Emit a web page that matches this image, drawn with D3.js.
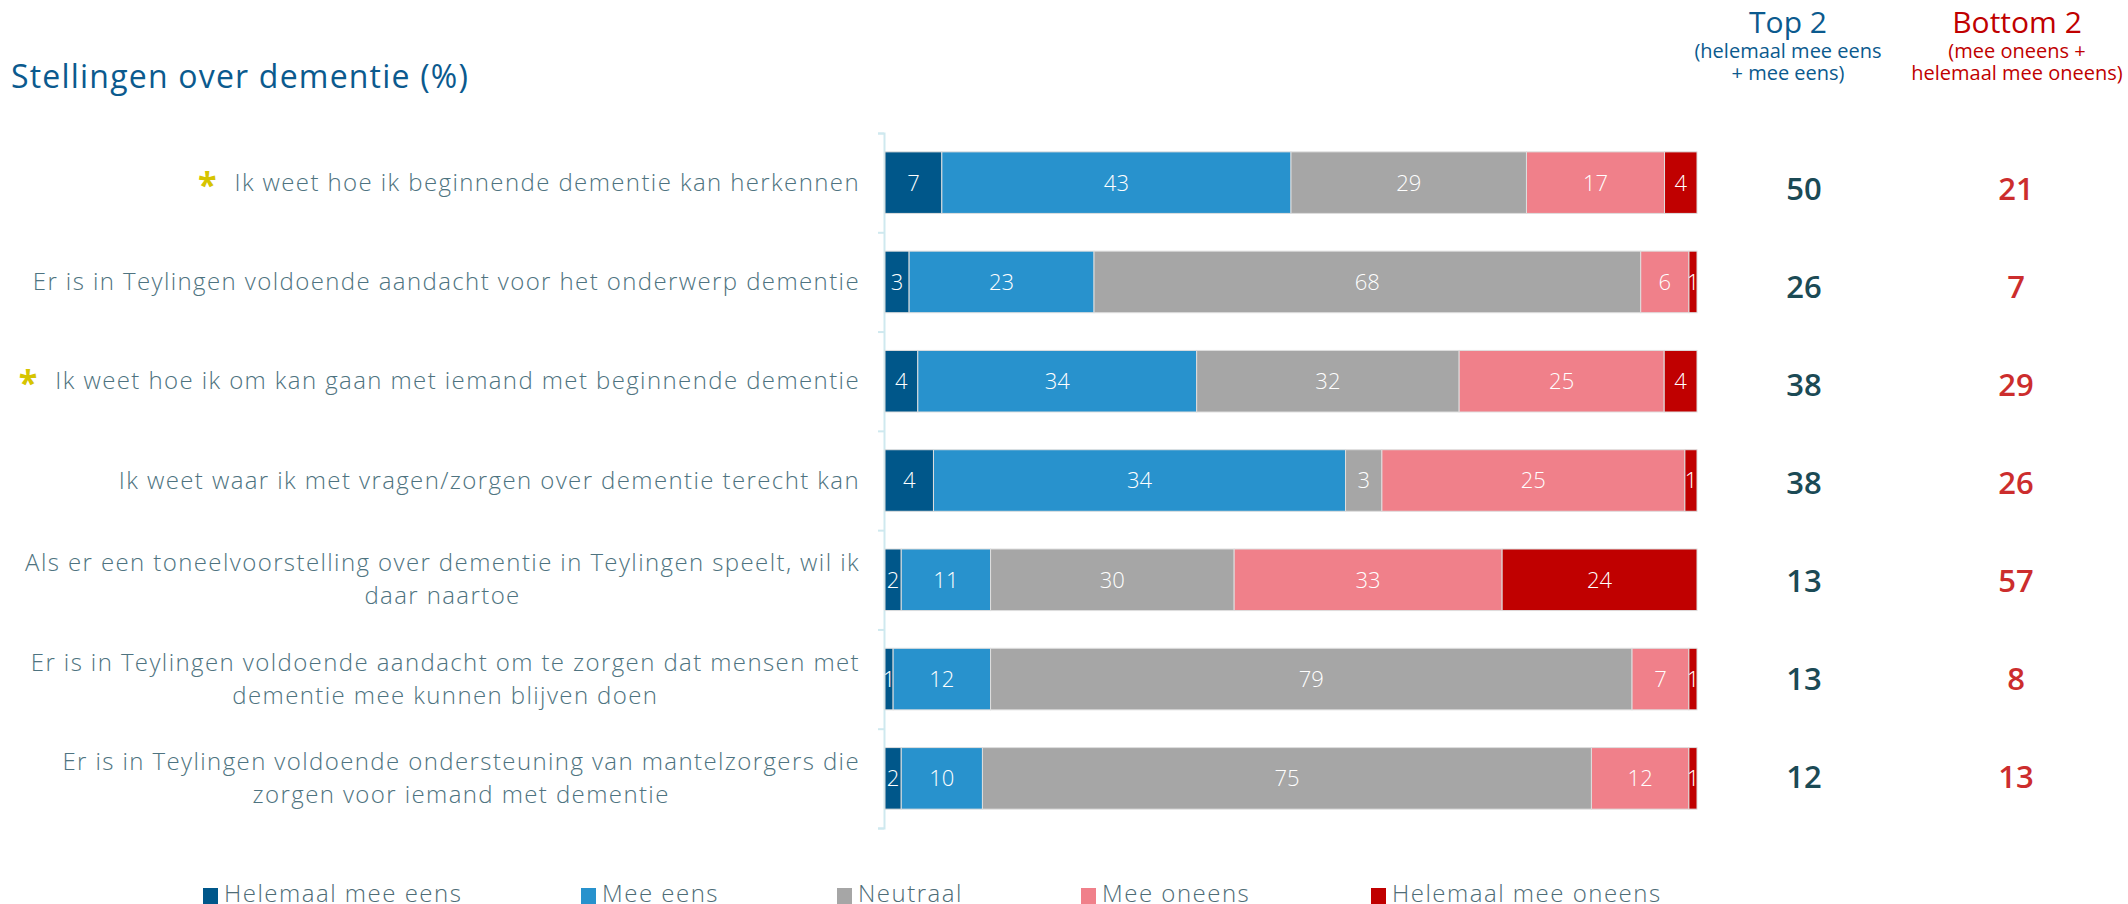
<!DOCTYPE html>
<html>
<head>
<meta charset="utf-8">
<script src="https://cdn.jsdelivr.net/npm/d3@7"></script>
<style>
  body { margin: 0; background: #fff; }
  svg { display: block; font-family: "Open Sans", "Noto Sans", sans-serif; }
</style>
</head>
<body>
<div id="chart"></div>
<script>
// Stellingen over dementie — 100% stacked bars with top2 / bottom2 columns
const statements = [
  ["Ik weet hoe ik beginnende dementie kan herkennen"],
  ["Er is in Teylingen voldoende aandacht voor het onderwerp dementie"],
  ["Ik weet hoe ik om kan gaan met iemand met beginnende dementie"],
  ["Ik weet waar ik met vragen/zorgen over dementie terecht kan"],
  ["Als er een toneelvoorstelling over dementie in Teylingen speelt, wil ik", "daar naartoe"],
  ["Er is in Teylingen voldoende aandacht om te zorgen dat mensen met", "dementie mee kunnen blijven doen"],
  ["Er is in Teylingen voldoende ondersteuning van mantelzorgers die", "zorgen voor iemand met dementie"]
];
const starred = [true, false, true, false, false, false, false];

const seriesNames = ["Helemaal mee eens", "Mee eens", "Neutraal", "Mee oneens", "Helemaal mee oneens"];
const helemaalEens = [7, 3, 4, 4, 2, 1, 2];
const meeEens = [43, 23, 34, 34, 11, 12, 10];
const neutraal = [29, 68, 32, 3, 30, 79, 75];
const meeOneens = [17, 6, 25, 25, 33, 7, 12];
const helemaalOneens = [4, 1, 4, 1, 24, 1, 1];

const top2 = [50, 26, 38, 38, 13, 13, 12];
const bottom2 = [21, 7, 29, 26, 57, 8, 13];

const colors = ["#00578a", "#2892cd", "#a6a6a6", "#f0808a", "#c00000"];

const W = 2128, H = 904;
const svg = d3.select("#chart").append("svg").attr("width", W).attr("height", H);

const rows = statements.map((s, i) => ({
  i,
  "Helemaal mee eens": helemaalEens[i],
  "Mee eens": meeEens[i],
  "Neutraal": neutraal[i],
  "Mee oneens": meeOneens[i],
  "Helemaal mee oneens": helemaalOneens[i]
}));

// bars are normalised to 100% (labels keep the raw numbers)
const stack = d3.stack().keys(seriesNames).offset(d3.stackOffsetExpand)(rows);

const x = d3.scaleLinear().domain([0, 1]).range([885, 1697]);
const y = d3.scaleBand().domain(d3.range(statements.length)).range([133, 828]).paddingInner(0.38).paddingOuter(0.19);
const yLin = d3.scaleLinear().domain([0, statements.length]).range([133, 828]);
// value columns sit on their own spacing
const yVal = d3.scaleLinear().domain([0, statements.length - 1]).range([200, 788]);

// Title
svg.append("text")
  .attr("x", 11).attr("y", 88)
  .attr("fill", "#0b5a8e")
  .attr("font-size", "32px")
  .attr("font-weight", 500)
  .attr("letter-spacing", "1.2px")
  .text("Stellingen over dementie (%)");

// Column headers
const headers = [
  { cx: 1788, color: "#0b5a8e", title: "Top 2", sub: ["(helemaal mee eens", "+ mee eens)"] },
  { cx: 2017, color: "#c00000", title: "Bottom 2", sub: ["(mee oneens +", "helemaal mee oneens)"] }
];
headers.forEach(h => {
  svg.append("text").attr("x", h.cx).attr("y", 33)
    .attr("text-anchor", "middle").attr("fill", h.color)
    .attr("font-size", "30px").attr("font-weight", 500).text(h.title);
  h.sub.forEach((s, j) => {
    svg.append("text").attr("x", h.cx).attr("y", 58 + j * 22)
      .attr("text-anchor", "middle").attr("fill", h.color)
      .attr("font-size", "20px").text(s);
  });
});

// Axis (light line with ticks at band boundaries)
svg.append("g")
  .attr("transform", "translate(884,0)")
  .call(d3.axisLeft(yLin).ticks(statements.length).tickFormat("").tickSize(6))
  .call(g => g.selectAll("path, line").attr("stroke", "#cfe9ef").attr("stroke-width", 2));

// Bars
const layer = svg.append("g").selectAll("g")
  .data(stack)
  .join("g")
  .attr("fill", (d, k) => colors[k]);

layer.selectAll("rect")
  .data(d => d.map(v => ({ v, key: d.key })))
  .join("rect")
  .attr("x", d => x(d.v[0]))
  .attr("y", d => y(d.v.data.i))
  .attr("width", d => x(d.v[1]) - x(d.v[0]))
  .attr("height", y.bandwidth())
  .attr("stroke", "#dedede")
  .attr("stroke-width", 1);

layer.selectAll("text")
  .data(d => d.map(v => ({ v, key: d.key })))
  .join("text")
  .attr("x", d => (x(d.v[0]) + x(d.v[1])) / 2)
  .attr("y", d => y(d.v.data.i) + y.bandwidth() / 2)
  .attr("dy", "0.36em")
  .attr("text-anchor", "middle")
  .attr("fill", "#fff")
  .attr("font-size", "22px")
  .attr("font-weight", 300)
  .text(d => d.v.data[d.key]);

// Row labels (block right-aligned, lines centered within block)
const labelRight = 860;
const lineH = 33;
statements.forEach((lines, i) => {
  const cy = y(i) + y.bandwidth() / 2;
  const g = svg.append("g");
  const texts = lines.map((l, j) => g.append("text")
    .attr("y", cy + 8 + (j - (lines.length - 1) / 2) * lineH)
    .attr("fill", "#4e7380")
    .attr("font-size", "24px")
    .attr("font-weight", 300)
    .attr("letter-spacing", "1.4px")
    .attr("text-anchor", "middle")
    .text(l));
  const widths = texts.map(t => t.node().getComputedTextLength());
  const bw = d3.max(widths);
  texts.forEach(t => t.attr("x", labelRight - bw / 2));
  if (starred[i]) {
    svg.append("text")
      .attr("x", labelRight - bw - 18)
      .attr("y", cy + 14)
      .attr("text-anchor", "end")
      .attr("fill", "#d6c400")
      .attr("font-size", "34px")
      .attr("font-weight", 700)
      .text("*");
  }
});

// Top 2 / Bottom 2 values
svg.append("g").selectAll("text")
  .data(top2)
  .join("text")
  .attr("x", 1804)
  .attr("y", (d, i) => yVal(i))
  .attr("text-anchor", "middle")
  .attr("fill", "#1b4a55")
  .attr("font-size", "31px")
  .attr("font-weight", 600)
  .text(d => d);

svg.append("g").selectAll("text")
  .data(bottom2)
  .join("text")
  .attr("x", 2016)
  .attr("y", (d, i) => yVal(i))
  .attr("text-anchor", "middle")
  .attr("fill", "#cc2d2d")
  .attr("font-size", "31px")
  .attr("font-weight", 600)
  .text(d => d);

// Legend
const legendX = [203, 581, 837, 1081, 1371];
const legend = svg.append("g").selectAll("g")
  .data(seriesNames)
  .join("g")
  .attr("transform", (d, i) => `translate(${legendX[i]},0)`);
legend.append("rect")
  .attr("x", 0).attr("y", 888)
  .attr("width", 15).attr("height", 16)
  .attr("fill", (d, i) => colors[i]);
legend.append("text")
  .attr("x", 21).attr("y", 902)
  .attr("fill", "#4e6c76")
  .attr("font-size", "24px")
  .attr("font-weight", 300)
  .attr("letter-spacing", "1.5px")
  .text(d => d);
</script>
</body>
</html>
